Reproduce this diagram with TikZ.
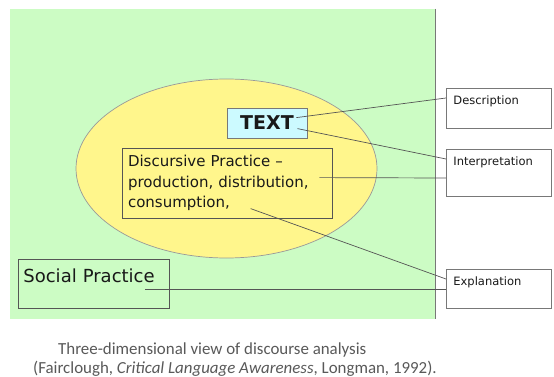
\documentclass[tikz,border=0pt]{standalone}
\usepackage{fontspec}
\setmainfont{DejaVu Sans}
\newfontfamily\capfont{Carlito}
\usetikzlibrary{shapes.geometric,calc}
\definecolor{bggreen}{RGB}{204,252,196}
\definecolor{ellyellow}{RGB}{255,246,140}
\definecolor{textcyan}{RGB}{204,250,255}
\definecolor{linegray}{RGB}{85,85,85}
\definecolor{boxgray}{RGB}{120,120,120}
\definecolor{inkdark}{RGB}{25,25,25}
\begin{document}
\begin{tikzpicture}[x=1pt,y=-1pt,
  labelbox/.style={draw=boxgray,line width=0.8pt,fill=white,anchor=north west,
    inner xsep=7pt,inner ysep=0pt,text width=91pt,align=left,text height=16pt,
    font=\fontsize{11.5}{13}\selectfont,text=inkdark},
  conn/.style={draw=linegray,line width=0.7pt}]
\useasboundingbox (0,0) rectangle (554,377);
\fill[white] (0,0) rectangle (554,377);
% green field
\fill[bggreen] (10,9) rectangle (435,319);
\draw[boxgray,line width=0.7pt] (435,9) -- (435,319);
% ellipse
\node[ellipse,draw=gray!80,line width=0.7pt,fill=ellyellow,minimum width=301pt,minimum height=179pt,inner sep=0pt] (ell) at (226.5,168.5) {};
% TEXT
\node[draw=boxgray,line width=0.8pt,fill=textcyan,minimum width=80pt,minimum height=30pt,inner sep=0pt,
  font=\fontsize{19}{22}\selectfont\bfseries,text=inkdark] (text) at (267,123) {TEXT};
% Discursive practice
\node[draw=linegray,line width=0.8pt,minimum width=210pt,minimum height=70pt,inner xsep=6pt,inner ysep=0pt,
  text width=198pt,align=left,font=\fontsize{15}{20.5}\selectfont,text=inkdark] (disc) at (227,183)
  {Discursive Practice --\\production, distribution,\\consumption,};
% Social practice
\node[draw=linegray,line width=0.8pt,anchor=north west,inner xsep=5pt,inner ysep=0pt,text width=141pt,align=left,
  text height=23pt,text depth=26pt,font=\fontsize{18}{20}\selectfont,text=inkdark] (social) at (18,259) {Social Practice};
% right label boxes
\node[labelbox,text depth=24pt] (desc) at (446,88) {Description};
\node[labelbox,text depth=31pt] (interp) at (446,149) {Interpretation};
\node[labelbox,text depth=23pt] (expl) at (446,269) {Explanation};
% connectors
\draw[conn] ($(text.north east)+(-11,10)$) -- ($(desc.north west)+(0,10)$);
\draw[conn] ($(text.north east)+(-10,21)$) -- ($(interp.north west)+(0,10)$);
\draw[conn] ($(disc.north east)+(-13,30)$) -- ($(interp.north west)+(0,29)$);
\draw[conn] ($(disc.north west)+(129,61)$) -- ($(expl.north west)+(0,10)$);
\draw[conn] ($(social.north west)+(127,30)$) -- ($(expl.north west)+(0,20)$);
% caption
\node[anchor=base west,inner sep=0pt,font=\capfont\fontsize{16.9}{18}\selectfont,text=black!65] (cap1) at (58,354)
  {Three-dimensional view of discourse analysis};
\node[anchor=base west,inner sep=0pt,font=\capfont\fontsize{16.9}{18}\selectfont,text=black!65] (cap2) at (33,373)
  {(Fairclough, \textit{Critical Language Awareness}, Longman, 1992).};
\end{tikzpicture}
\end{document}
